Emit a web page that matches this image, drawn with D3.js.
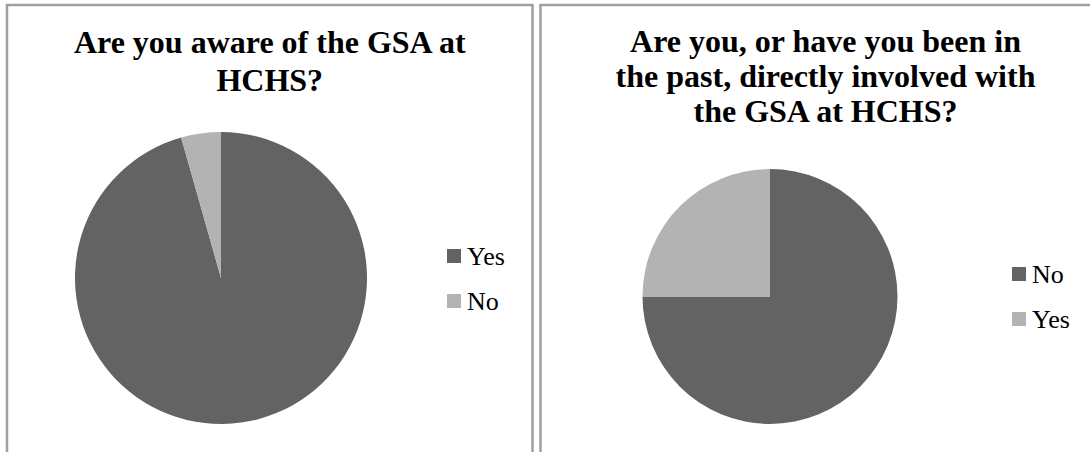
<!DOCTYPE html>
<html>
<head>
<meta charset="utf-8">
<script src="https://cdn.jsdelivr.net/npm/d3@7"></script>
<style>
  html, body { margin: 0; padding: 0; background: #fff; }
  svg { display: block; }
</style>
</head>
<body>
<svg id="chart" width="1090" height="452"></svg>
<script>
// ---- data ----
const awareCategories = ["Yes", "No"];
const awareValues = [95.6, 4.4];
const awareTitle = ["Are you aware of the GSA at", "HCHS?"];

const involvedCategories = ["No", "Yes"];
const involvedValues = [75, 25];
const involvedTitle = ["Are you, or have you been in", "the past, directly involved with", "the GSA at HCHS?"];

const seriesColors = ["#636363", "#b3b3b3"];
const FONT = "'Liberation Serif', 'Times New Roman', Times, serif";

// ---- drawing ----
const svg = d3.select("#chart");

function panel(cfg) {
  const g = svg.append("g");
  g.append("rect")
    .attr("x", cfg.x).attr("y", cfg.y)
    .attr("width", cfg.w).attr("height", cfg.h)
    .attr("fill", "#fff")
    .attr("stroke", "#a0a0a0")
    .attr("stroke-width", 2.5);

  const t = g.append("text")
    .attr("text-anchor", "middle")
    .attr("font-family", FONT)
    .style("font-family", FONT)
    .style("font-size", "32px")
    .style("font-weight", "bold")
    .attr("fill", "#000");
  cfg.title.forEach((line, i) => {
    t.append("tspan")
      .attr("x", cfg.x + cfg.w / 2)
      .attr("y", cfg.titleY + i * cfg.lineH)
      .text(line);
  });

  const color = d3.scaleOrdinal().domain(cfg.categories).range(seriesColors);
  const pie = d3.pie().sort(null).value(d => d.value);
  const data = cfg.categories.map((c, i) => ({ cat: c, value: cfg.values[i] }));
  const arc = d3.arc().innerRadius(0).outerRadius(cfg.r);

  g.append("g")
    .attr("transform", `translate(${cfg.cx},${cfg.cy})`)
    .selectAll("path")
    .data(pie(data))
    .join("path")
    .attr("d", arc)
    .attr("fill", d => color(d.data.cat));

  const lg = g.append("g").attr("transform", `translate(${cfg.lx},${cfg.ly})`);
  const items = lg.selectAll("g").data(cfg.categories).join("g")
    .attr("transform", (d, i) => `translate(0,${i * 45})`);
  items.append("rect")
    .attr("x", 0).attr("y", -14)
    .attr("width", 14).attr("height", 14)
    .attr("fill", d => color(d));
  items.append("text")
    .attr("x", 20).attr("y", 2)
    .attr("font-family", FONT)
    .style("font-family", FONT)
    .style("font-size", "26px")
    .attr("fill", "#000")
    .text(d => d);
}

panel({
  x: 7, y: 5, w: 525.5, h: 470,
  title: awareTitle, titleY: 53, lineH: 38,
  categories: awareCategories, values: awareValues,
  cx: 221, cy: 278, r: 146,
  lx: 447, ly: 263
});

panel({
  x: 540.5, y: 5, w: 570, h: 470,
  title: involvedTitle, titleY: 52, lineH: 35,
  categories: involvedCategories, values: involvedValues,
  cx: 770, cy: 296.5, r: 127.5,
  lx: 1012, ly: 281
});
</script>
</body>
</html>
